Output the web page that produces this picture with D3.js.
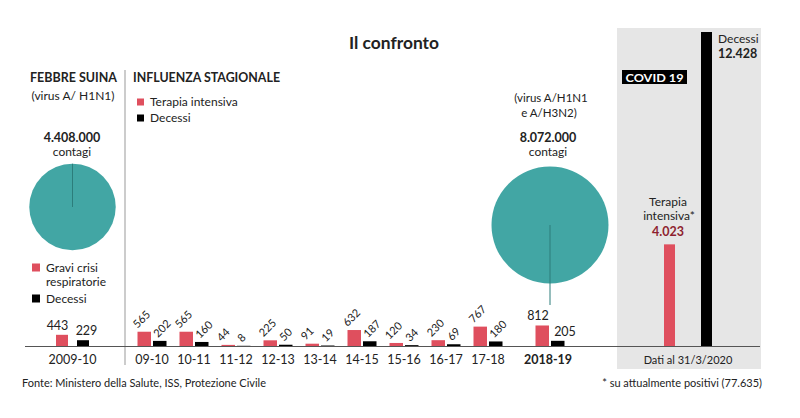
<!DOCTYPE html>
<html><head><meta charset="utf-8">
<script src="https://cdn.jsdelivr.net/npm/d3@7/dist/d3.min.js"></script>
<style>
body{margin:0;background:#fff}
text{font-family:Lato,"Open Sans","DejaVu Sans",sans-serif;fill:#222}
</style>
</head><body>
<svg id="chart" width="800" height="418"></svg>
<script>
// ---- data ----
const fluSeasons = ["09-10","10-11","11-12","12-13","13-14","14-15","15-16","16-17","17-18"];
const fluIcu     = [565, 565, 44, 225, 91, 632, 120, 230, 767];
const fluDeaths  = [202, 160, 8, 50, 19, 187, 34, 69, 180];

const swineSeason = ["2009-10"];
const swineSevere = [443];
const swineDeaths = [229];
const swineCases  = 4408000;

const recentSeason = ["2018-19"];
const recentIcu    = [812];
const recentDeaths = [205];
const recentCases  = 8072000;

const covidCats   = ["Terapia intensiva", "Decessi"];
const covidValues = [4023, 12428];

// ---- styles ----
const RED = "#df4f5e", BLACK = "#000", TEAL = "#42a6a4", TEALLINE = "#2c7d7b";
const fmt = d3.formatLocale({decimal:",", thousands:".", grouping:[3], currency:["","€"]}).format(",");

const svg = d3.select("#chart");
const base = 346;

// scales
const y = d3.scaleLinear().domain([0, d3.max(covidValues)]).range([base, 32]);
const xFlu = d3.scalePoint().domain(fluSeasons).range([152, 488]);
const xSwine = d3.scalePoint().domain(swineSeason).range([72.5, 72.5]);
const xRecent = d3.scalePoint().domain(recentSeason).range([550, 550]);
const xCovid = d3.scalePoint().domain(covidCats).range([669.5, 706.5]);
const r = d3.scaleSqrt().domain([0, recentCases]).range([0, 58.5]);

// covid panel background
svg.append("rect").attr("x", 617).attr("y", 28).attr("width", 144).attr("height", 341).attr("fill", "#e6e6e6");

// title
svg.append("text").attr("x", 394).attr("y", 49).attr("text-anchor", "middle")
  .attr("font-size", 17).attr("font-weight", 700).attr("textLength", 90).attr("lengthAdjust", "spacingAndGlyphs")
  .text("Il confronto");

// separator
svg.append("line").attr("x1", 125).attr("x2", 125).attr("y1", 70).attr("y2", 365).attr("stroke", "#999").attr("stroke-width", 1);

// section headers
svg.append("text").attr("x", 30).attr("y", 82).attr("font-size", 13).attr("font-weight", 700)
  .attr("textLength", 87).attr("lengthAdjust", "spacingAndGlyphs").text("FEBBRE SUINA");
svg.append("text").attr("x", 73).attr("y", 100).attr("text-anchor", "middle").attr("font-size", 12)
  .text("(virus A/ H1N1)");
svg.append("text").attr("x", 133).attr("y", 82).attr("font-size", 13).attr("font-weight", 700)
  .attr("textLength", 147).attr("lengthAdjust", "spacingAndGlyphs").text("INFLUENZA STAGIONALE");

// flu legend
svg.append("rect").attr("x", 137).attr("y", 98.5).attr("width", 7).attr("height", 7).attr("fill", RED);
svg.append("text").attr("x", 150).attr("y", 106).attr("font-size", 12).text("Terapia intensiva");
svg.append("rect").attr("x", 137).attr("y", 114.5).attr("width", 7).attr("height", 7).attr("fill", BLACK);
svg.append("text").attr("x", 150).attr("y", 122).attr("font-size", 12).text("Decessi");

// swine legend
svg.append("rect").attr("x", 32).attr("y", 263.5).attr("width", 8).attr("height", 8).attr("fill", RED);
svg.append("text").attr("x", 46).attr("y", 272).attr("font-size", 12).text("Gravi crisi");
svg.append("text").attr("x", 46).attr("y", 286).attr("font-size", 12).text("respiratorie");
svg.append("rect").attr("x", 32).attr("y", 294.5).attr("width", 8).attr("height", 8).attr("fill", BLACK);
svg.append("text").attr("x", 46).attr("y", 303).attr("font-size", 12).text("Decessi");

// bubbles
function bubble(cx, cy, cases, lineFrom, lineTo) {
  svg.append("circle").attr("cx", cx).attr("cy", cy).attr("r", r(cases)).attr("fill", TEAL);
  svg.append("line").attr("x1", cx).attr("x2", cx).attr("y1", lineFrom).attr("y2", lineTo)
    .attr("stroke", TEALLINE).attr("stroke-width", 1);
}
const swCy = 207, reCy = 225;
bubble(xSwine(swineSeason[0]), swCy, swineCases, swCy - r(swineCases), swCy);
bubble(xRecent(recentSeason[0]), reCy, recentCases, reCy, 305);

svg.append("text").attr("x", 72).attr("y", 142).attr("text-anchor", "middle").attr("font-size", 12.5).attr("font-weight", 700).text(fmt(swineCases));
svg.append("text").attr("x", 72).attr("y", 156).attr("text-anchor", "middle").attr("font-size", 12).text("contagi");

svg.append("text").attr("x", 551).attr("y", 102).attr("text-anchor", "middle").attr("font-size", 11.5).text("(virus A/H1N1");
svg.append("text").attr("x", 549).attr("y", 117).attr("text-anchor", "middle").attr("font-size", 11.5).text("e A/H3N2)");
svg.append("text").attr("x", 548).attr("y", 142).attr("text-anchor", "middle").attr("font-size", 12.5).attr("font-weight", 700).text(fmt(recentCases));
svg.append("text").attr("x", 548).attr("y", 156).attr("text-anchor", "middle").attr("font-size", 12).text("contagi");

// slanted value label helper
function rotLabel(parent, x, yy, txt) {
  parent.append("text").attr("x", x).attr("y", yy)
    .attr("transform", "rotate(-45 " + x + " " + yy + ")")
    .attr("font-size", 11).text(txt);
}

// flu bars
const fluData = fluSeasons.map((s, i) => ({s, icu: fluIcu[i], dead: fluDeaths[i]}));
const g = svg.append("g");
fluData.forEach(d => {
  const c = xFlu(d.s);
  const rx = c - 14.5, bx = c + 1;
  g.append("rect").attr("x", rx).attr("y", y(d.icu)).attr("width", 13.5).attr("height", base - y(d.icu)).attr("fill", RED);
  g.append("rect").attr("x", bx).attr("y", y(d.dead)).attr("width", 13.5).attr("height", base - y(d.dead)).attr("fill", BLACK);
  rotLabel(g, rx, y(d.icu) - 3, d.icu);
  rotLabel(g, bx + 5, y(d.dead) - 3, d.dead);
  g.append("text").attr("x", c).attr("y", 364).attr("text-anchor", "middle").attr("font-size", 12.5).text(d.s);
});

// swine bars
swineSeason.forEach((s, i) => {
  const c = xSwine(s);
  g.append("rect").attr("x", c - 16.5).attr("y", y(swineSevere[i])).attr("width", 12).attr("height", base - y(swineSevere[i])).attr("fill", RED);
  g.append("rect").attr("x", c + 4.5).attr("y", y(swineDeaths[i])).attr("width", 12).attr("height", base - y(swineDeaths[i])).attr("fill", BLACK);
  g.append("text").attr("x", c - 15).attr("y", y(swineSevere[i]) - 5).attr("text-anchor", "middle").attr("font-size", 12.5).text(swineSevere[i]);
  g.append("text").attr("x", c + 14).attr("y", y(swineDeaths[i]) - 5).attr("text-anchor", "middle").attr("font-size", 12.5).text(swineDeaths[i]);
  g.append("text").attr("x", c).attr("y", 364).attr("text-anchor", "middle").attr("font-size", 12.5).text(s);
});

// recent season bars
recentSeason.forEach((s, i) => {
  const c = xRecent(s);
  g.append("rect").attr("x", c - 14.5).attr("y", y(recentIcu[i])).attr("width", 13.5).attr("height", base - y(recentIcu[i])).attr("fill", RED);
  g.append("rect").attr("x", c + 1).attr("y", y(recentDeaths[i])).attr("width", 13.5).attr("height", base - y(recentDeaths[i])).attr("fill", BLACK);
  g.append("text").attr("x", c - 12).attr("y", y(recentIcu[i]) - 5).attr("text-anchor", "middle").attr("font-size", 12.5).text(recentIcu[i]);
  g.append("text").attr("x", c + 15).attr("y", y(recentDeaths[i]) - 5).attr("text-anchor", "middle").attr("font-size", 12.5).text(recentDeaths[i]);
  g.append("text").attr("x", c - 2).attr("y", 364).attr("text-anchor", "middle").attr("font-size", 12.5).attr("font-weight", 700).text(s);
});

// covid bars
covidCats.forEach((k, i) => {
  const c = xCovid(k);
  g.append("rect").attr("x", c - 5.5).attr("y", y(covidValues[i])).attr("width", 11).attr("height", base - y(covidValues[i]))
    .attr("fill", i === 0 ? RED : BLACK);
});
svg.append("rect").attr("x", 622).attr("y", 70).attr("width", 65).attr("height", 14).attr("fill", "#000");
svg.append("text").attr("x", 654.5).attr("y", 81.5).attr("text-anchor", "middle").attr("font-size", 12).attr("font-weight", 700)
  .attr("textLength", 58).attr("lengthAdjust", "spacingAndGlyphs").style("fill", "#fff").text("COVID 19");
svg.append("text").attr("x", 668).attr("y", 206).attr("text-anchor", "middle").attr("font-size", 12).text("Terapia");
svg.append("text").attr("x", 669).attr("y", 220).attr("text-anchor", "middle").attr("font-size", 12).text("intensiva*");
svg.append("text").attr("x", 668).attr("y", 236).attr("text-anchor", "middle").attr("font-size", 12.5).attr("font-weight", 700)
  .style("fill", "#8e1f2f").text(fmt(covidValues[0]));
svg.append("text").attr("x", 718).attr("y", 43).attr("font-size", 12).text("Decessi");
svg.append("text").attr("x", 718).attr("y", 58).attr("font-size", 12.5).attr("font-weight", 700).text(fmt(covidValues[1]));
svg.append("text").attr("x", 688).attr("y", 364).attr("text-anchor", "middle").attr("font-size", 11).text("Dati al 31/3/2020");

// baseline
svg.append("line").attr("x1", 25).attr("x2", 760).attr("y1", base + 0.5).attr("y2", base + 0.5).attr("stroke", "#555").attr("stroke-width", 1);

// footer
svg.append("text").attr("x", 22).attr("y", 387).attr("font-size", 11)
  .attr("textLength", 244).attr("lengthAdjust", "spacingAndGlyphs").text("Fonte: Ministero della Salute, ISS, Protezione Civile");
svg.append("text").attr("x", 762).attr("y", 387).attr("text-anchor", "end").attr("font-size", 11)
  .text("* su attualmente positivi (77.635)");
</script>
</body></html>
